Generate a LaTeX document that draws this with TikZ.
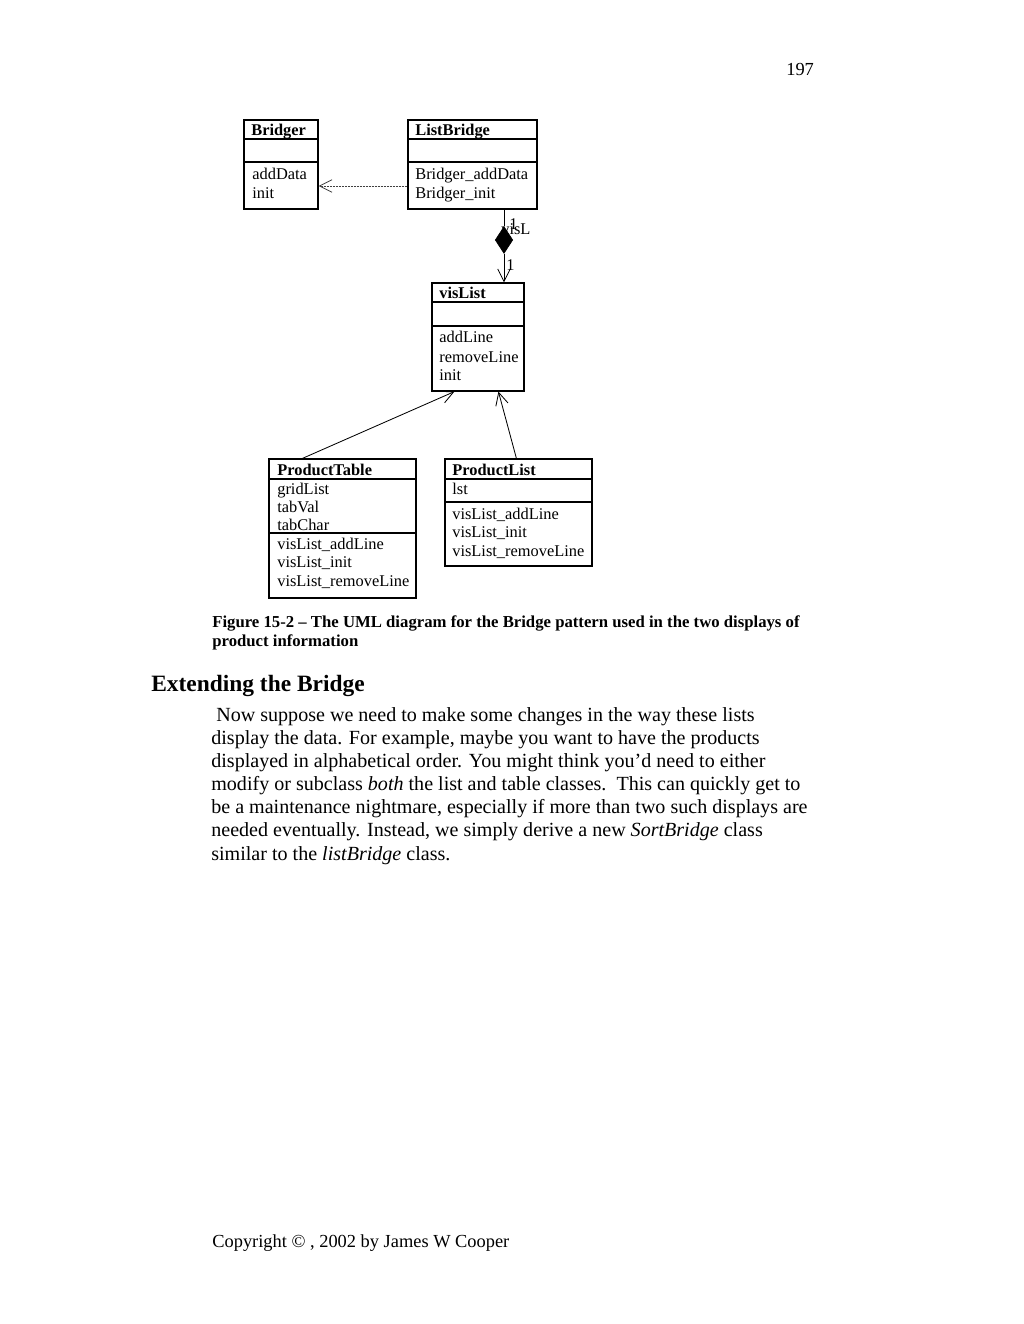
\documentclass[tikz,border=0pt]{standalone}
\usepackage{fontspec}
\setmainfont{Liberation Serif}
\usetikzlibrary{arrows.meta,shapes.geometric,fit}

\begin{document}
\begin{tikzpicture}[x=0.598pt, y=-0.598pt,
  classBox/.style={draw, line width=0.7pt, inner sep=0pt, fit={#1}},
  classRule/.style={line width=0.7pt},
  classTitle/.style={anchor=base west, inner sep=0pt, font=\fontsize{9.8}{12}\selectfont\bfseries},
  classMember/.style={anchor=base west, inner sep=0pt, font=\fontsize{9.8}{12}\selectfont},
  assocLabel/.style={anchor=base west, inner sep=0pt, font=\fontsize{9.8}{12}\selectfont},
  aggDiamond/.style={diamond, draw, fill=black, inner sep=0pt, minimum width=10.5pt, minimum height=16pt},
  openHead/.style={line width=0.5pt, -{Straight Barb[length=7.5pt, width=7.5pt, line width=0.5pt]}},
  pageText/.style={anchor=base west, inner sep=0pt, font=\fontsize{12}{14}\selectfont},
  footText/.style={anchor=base west, inner sep=0pt, font=\fontsize{11}{13}\selectfont},
  captionText/.style={anchor=base west, inner sep=0pt, font=\fontsize{10}{12}\selectfont\bfseries},
  headText/.style={anchor=base west, inner sep=0pt, font=\fontsize{14}{16}\selectfont\bfseries},
]
% page frame
\useasboundingbox[fill=white] (0,0) rectangle (1023,1324);

\node[footText] (pageNo) at (786,76) {197};

% Bridger
\node[classBox={(244,120) (318,209)}] (bridger) {};
\draw[classRule] (244,139) -- (318,139) (244,162) -- (318,162);
\node[classTitle] (bridgerName) at (251,136) {Bridger};
\foreach \m [count=\i from 0] in {addData, init}
  \node[classMember] (bridgerOp\i) at (252,{180+19*\i}) {\m};

% ListBridge
\node[classBox={(408,120) (537,209)}] (listBridge) {};
\draw[classRule] (408,139) -- (537,139) (408,162) -- (537,162);
\node[classTitle] (listBridgeName) at (415,136) {ListBridge};
\foreach \m [count=\i from 0] in {Bridger\_addData, Bridger\_init}
  \node[classMember] (listBridgeOp\i) at (415,{180+19*\i}) {\m};

% visList
\node[classBox={(432,283) (524,391)}] (visList) {};
\draw[classRule] (432,302) -- (524,302) (432,326) -- (524,326);
\node[classTitle] (visListName) at (439,299) {visList};
\foreach \m [count=\i from 0] in {addLine, removeLine, init}
  \node[classMember] (visListOp\i) at (439,{343+19*\i}) {\m};

% ProductTable
\node[classBox={(269,459) (416,598)}] (productTable) {};
\draw[classRule] (269,479) -- (416,479) (269,533) -- (416,533);
\node[classTitle] (productTableName) at (277,475) {ProductTable};
\foreach \m [count=\i from 0] in {gridList, tabVal, tabChar}
  \node[classMember] (productTableAttr\i) at (277,{494+18.3*\i}) {\m};
\foreach \m [count=\i from 0] in {visList\_addLine, visList\_init, visList\_removeLine}
  \node[classMember] (productTableOp\i) at (277,{549+18.5*\i}) {\m};

% ProductList
\node[classBox={(445,459) (592,566)}] (productList) {};
\draw[classRule] (445,479) -- (592,479) (445,502) -- (592,502);
\node[classTitle] (productListName) at (452,475) {ProductList};
\node[classMember] (productListAttr0) at (452,494) {lst};
\foreach \m [count=\i from 0] in {visList\_addLine, visList\_init, visList\_removeLine}
  \node[classMember] (productListOp\i) at (452,{519+18.5*\i}) {\m};

% dependency
\draw[openHead, black!75, dash pattern=on 1.2pt off 0.6pt] (listBridge.west |- 0,186) -- (bridger.east |- 0,186);

% composition ListBridge -> visList
\node[aggDiamond] (bridgeAgg) at (504,240) {};
\draw[line width=0.5pt] (listBridge.south -| bridgeAgg) -- (bridgeAgg.north);
\draw[openHead] (bridgeAgg.south) -- (bridgeAgg |- visList.north);
\node[assocLabel] (aggRole) at (501,235) {visL};
\node[assocLabel] (aggOne) at (509,230) {1};
\node[assocLabel] (navOne) at (506,271) {1};

% inheritance
\draw[openHead] ([xshift=34*0.598pt]productTable.north west) -- ([xshift=23*0.598pt]visList.south west);
\draw[openHead] ([xshift=72*0.598pt]productList.north west) -- ([xshift=67*0.598pt]visList.south west);

% caption
\node[captionText] (capLine0) at (212,627) {Figure 15-2 -- The UML diagram for the Bridge pattern used in the two displays of};
\node[captionText] (capLine1) at (212,646) {product information};

% section
\node[headText] (secHead) at (151,691) {Extending the Bridge};

\node[pageText] (bodyLine0) at (216,721) {Now suppose we need to make some changes in the way these lists};
\node[pageText] (bodyLine1) at (211,744) {display the data. For example, maybe you want to have the products};
\node[pageText] (bodyLine2) at (211,767) {displayed in alphabetical order. You might think you’d need to either};
\node[pageText] (bodyLine3) at (211,790) {modify or subclass \emph{both} the list and table classes.\ \ This can quickly get to};
\node[pageText] (bodyLine4) at (211,813) {be a maintenance nightmare, especially if more than two such displays are};
\node[pageText] (bodyLine5) at (211,836) {needed eventually. Instead, we simply derive a new \emph{SortBridge} class};
\node[pageText] (bodyLine6) at (211,860) {similar to the \emph{listBridge} class.};

\node[footText] (copyLine) at (212,1247) {Copyright © , 2002 by James W Cooper};
\end{tikzpicture}
\end{document}
